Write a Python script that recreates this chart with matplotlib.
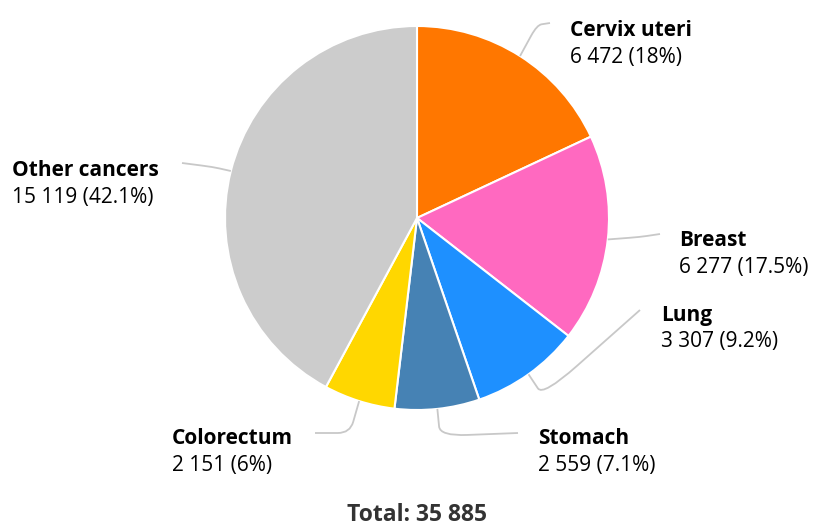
import matplotlib.pyplot as plt
from matplotlib.path import Path
from matplotlib.patches import PathPatch
import numpy as np

plt.rcParams["font.family"] = ["Open Sans", "DejaVu Sans"]

# data
cancers = ["Cervix uteri", "Breast", "Lung", "Stomach", "Colorectum", "Other cancers"]
cases = [6472, 6277, 3307, 2559, 2151, 15119]
colors = ["#FF7700", "#FF69C0", "#1E90FF", "#4682B4", "#FFD700", "#CCCCCC"]

# layout in pixel coords (y measured from top)
W, H = 813, 526
cx, cy, R = 417, 218, 192
label_pos = [(570, 31), (679, 241), (661, 315), (538, 439), (172, 439), (12, 170)]
# connector corner / end points
connectors = [
    [(537, 25), (550, 23)],
    [(640, 237), (660, 234)],
    [(543, 396), (640, 310)],
    [(440, 436), (518, 433)],
    [(350, 433), (315, 433)],
    [(213, 167), (182, 163)],
]


def fmt_num(v):
    return f"{v:,}".replace(",", " ")


def fmt_pct(p):
    s = f"{p:.1f}"
    return s[:-2] if s.endswith(".0") else s


fig = plt.figure(figsize=(W / 100, H / 100), dpi=100)
ax = fig.add_axes([0, 0, 1, 1])

# inverted y axis: counterclock=True runs clockwise on screen
ax.pie(cases, colors=colors, startangle=-90, counterclock=True, center=(cx, cy), radius=R,
       wedgeprops=dict(edgecolor="white", linewidth=1.5), frame=True)
ax.set_xlim(0, W)
ax.set_ylim(H, 0)
ax.set_aspect("equal")
ax.axis("off")

total = sum(cases)
frac = np.array(cases) / total
starts = np.concatenate([[0], np.cumsum(frac)[:-1]])
mids = (starts + frac / 2) * 2 * np.pi

for name, v, f, m, (lx, ly), conn in zip(cancers, cases, frac, mids, label_pos, connectors):
    sx = cx + R * np.sin(m)
    sy = cy - R * np.cos(m)
    (kx, ky), (ex, ey) = conn
    # rounded corner
    t = 0.35
    ax1 = kx + (sx - kx) * t
    ay1 = ky + (sy - ky) * t
    bx1 = kx + (ex - kx) * t
    by1 = ky + (ey - ky) * t
    verts = [(sx, sy), (ax1, ay1), (kx, ky), (bx1, by1), (ex, ey)]
    codes = [Path.MOVETO, Path.LINETO, Path.CURVE3, Path.CURVE3, Path.LINETO]
    ax.add_patch(PathPatch(Path(verts, codes), fill=False, edgecolor="#C8C8C8", linewidth=1.3))
    ax.text(lx, ly, name, fontsize=15, fontweight="bold", color="#000000", ha="left", va="center")
    ax.text(lx, ly + 27, f"{fmt_num(v)} ({fmt_pct(f * 100)}%)", fontsize=15, color="#000000",
            ha="left", va="center")

ax.text(cx, 515, f"Total: {fmt_num(total)}", fontsize=16.5, fontweight="bold", color="#333333",
        ha="center", va="center")

fig.savefig("out.png", dpi=100)
